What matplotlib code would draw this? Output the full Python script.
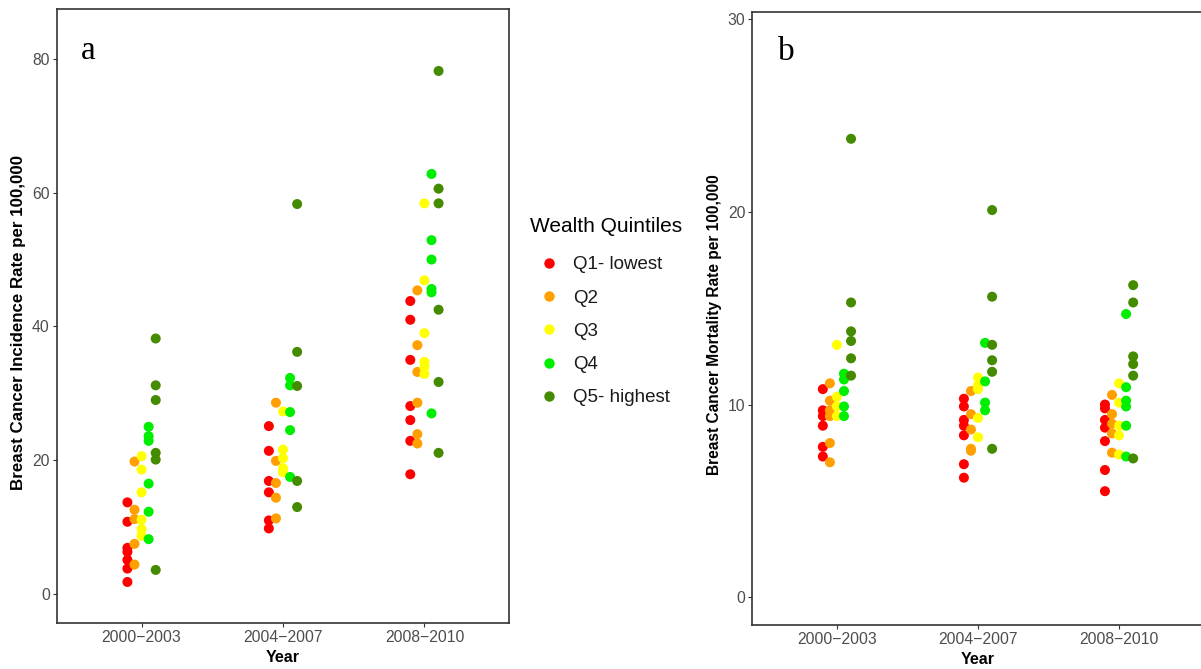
import matplotlib
matplotlib.use("Agg")
import matplotlib.pyplot as plt
from matplotlib.lines import Line2D

# --- data: one list per quintile, one inner list per period ---
periods = ["2000\u22122003", "2004\u22122007", "2008\u22122010"]
quintiles = ["Q1- lowest", "Q2", "Q3", "Q4", "Q5- highest"]
colors = ["#FF0000", "#FF9F00", "#FFFF00", "#00EE00", "#458B00"]

# incidence per 100,000
inc_q1 = [[13.7, 10.8, 6.9, 6.3, 5.1, 3.8, 1.8],
          [25.1, 21.4, 16.9, 15.2, 11.0, 9.8],
          [43.8, 41.0, 35.0, 28.1, 26.0, 22.9, 17.9]]
inc_q2 = [[19.8, 12.6, 11.2, 7.5, 4.4],
          [28.6, 19.9, 16.6, 14.4, 11.3],
          [45.4, 37.2, 33.2, 28.6, 23.9, 22.5]]
inc_q3 = [[20.6, 18.6, 15.2, 11.1, 9.7, 8.7],
          [27.3, 21.6, 20.3, 18.8, 18.2],
          [58.4, 46.9, 39.0, 34.7, 33.9, 32.9]]
inc_q4 = [[25.0, 23.6, 22.9, 16.5, 12.3, 8.2],
          [32.3, 31.2, 27.2, 24.5, 17.5],
          [62.8, 52.9, 50.0, 45.6, 45.1, 27.0]]
inc_q5 = [[38.2, 31.2, 29.0, 21.1, 20.1, 3.6],
          [58.3, 36.2, 31.1, 16.9, 13.0],
          [78.2, 60.6, 58.4, 42.5, 31.7, 21.1]]

# mortality per 100,000
mor_q1 = [[10.8, 9.7, 9.4, 8.9, 7.8, 7.3],
          [10.3, 9.9, 9.2, 8.9, 8.4, 6.9, 6.2],
          [10.0, 9.8, 9.2, 8.8, 8.1, 6.6, 5.5]]
mor_q2 = [[11.1, 10.2, 9.7, 9.4, 8.0, 7.0],
          [10.7, 9.5, 8.7, 7.7, 7.6],
          [10.5, 9.5, 9.0, 8.5, 7.5]]
mor_q3 = [[13.1, 10.4, 9.9, 9.4],
          [11.4, 11.0, 10.8, 9.3, 8.3],
          [11.1, 10.1, 8.9, 8.4, 7.4]]
mor_q4 = [[11.6, 11.3, 10.7, 9.9, 9.4],
          [13.2, 11.2, 10.1, 9.7],
          [14.7, 10.9, 10.2, 9.9, 8.9, 7.3]]
mor_q5 = [[23.8, 15.3, 13.8, 13.3, 12.4, 11.5],
          [20.1, 15.6, 13.1, 12.3, 11.7, 7.7],
          [16.2, 15.3, 12.5, 12.1, 11.5, 7.2]]

incidence = [inc_q1, inc_q2, inc_q3, inc_q4, inc_q5]
mortality = [mor_q1, mor_q2, mor_q3, mor_q4, mor_q5]

plt.rcParams["font.family"] = ["Liberation Sans", "DejaVu Sans"]

W, H = 1201, 669
fig = plt.figure(figsize=(W / 100, H / 100), dpi=100)


def px_axes(left, top, right, bottom):
    return fig.add_axes([left / W, 1 - bottom / H, (right - left) / W, (bottom - top) / H])


ax_a = px_axes(56.7, 9.4, 509.3, 623.3)
ax_b = px_axes(752.3, 12.3, 1203.7, 625.0)

dodge = [-0.1, -0.05, 0.0, 0.05, 0.1]


def draw_panel(ax, series, ylim, yticks, ylabel, ylab_size, letter, lx, ly):
    for qi, (vals, col) in enumerate(zip(series, colors)):
        for pi, pvals in enumerate(vals):
            ax.scatter([pi + 1 + dodge[qi]] * len(pvals), pvals, s=52, color=col,
                       edgecolors="none", zorder=3)
    ax.set_xlim(0.4, 3.6)
    ax.set_ylim(*ylim)
    ax.set_xticks([1, 2, 3])
    ax.set_xticklabels(periods)
    ax.set_yticks(yticks)
    ax.tick_params(axis="both", length=3, width=0.8, color="#333333",
                   labelcolor="#4D4D4D", labelsize=11.3, pad=2)
    for sp in ax.spines.values():
        sp.set_linewidth(1.2)
        sp.set_color("#333333")
    ax.set_xlabel("Year", fontsize=11.5, fontweight="bold")
    ax.xaxis.set_label_coords(0.5, -0.044)
    ax.set_ylabel(ylabel, fontsize=ylab_size, fontweight="bold")
    ax.yaxis.set_label_coords(-0.068, 0.49)
    ax.text(lx, ly, letter, transform=ax.transAxes, fontsize=24,
            family="Liberation Serif", ha="center", va="center")


draw_panel(ax_a, incidence, (-4.38, 87.4), [0, 20, 40, 60, 80],
           "Breast Cancer Incidence Rate per 100,000", 12.2, "a", 0.069, 0.932)
draw_panel(ax_b, mortality, (-1.45, 30.37), [0, 10, 20, 30],
           "Breast Cancer Mortality Rate per 100,000", 11.2, "b", 0.075, 0.936)

handles = [Line2D([], [], marker="o", linestyle="none", markersize=7.5,
                  markerfacecolor=c, markeredgecolor="none") for c in colors]
leg = fig.legend(handles, quintiles, title="Wealth Quintiles", loc="upper left",
                 bbox_to_anchor=(530 / W, 1 - 217 / H), frameon=False,
                 fontsize=13.5, title_fontsize=15, handlelength=2.0,
                 handletextpad=0.3, labelspacing=0.86, borderpad=0,
                 borderaxespad=0, alignment="left")
# a little more room between the title and the first entry (points)
leg._legend_box.sep = 0.86 * 13.5 + 3
for t in leg.get_texts():
    t.set_color("#1A1A1A")

fig.savefig("out.png", dpi=100)
